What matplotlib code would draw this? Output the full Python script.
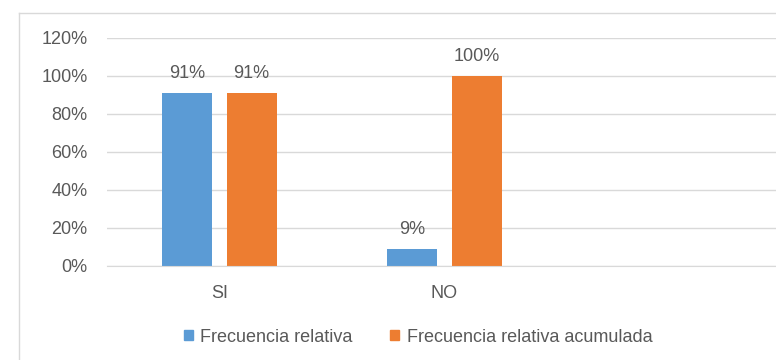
import numpy as np
import matplotlib.pyplot as plt
from matplotlib.patches import Patch
from matplotlib.lines import Line2D
from matplotlib.ticker import PercentFormatter

plt.rcParams['font.family'] = ['Liberation Sans', 'DejaVu Sans']

categories = ['SI', 'NO', '']
frec_relativa = [0.91, 0.09, np.nan]
frec_acumulada = [0.91, 1.00, np.nan]
series_names = ['Frecuencia relativa', 'Frecuencia relativa acumulada']
yticks = [0, 0.2, 0.4, 0.6, 0.8, 1.0, 1.2]

blue = '#5B9BD5'
orange = '#ED7D31'
grid_col = '#D9D9D9'
text_col = '#595959'
fs = 13

fig = plt.figure(figsize=(7.76, 3.6), dpi=100)
ax = fig.add_axes([107 / 776, 1 - 266 / 360, 675 / 776, 228 / 360])

x = np.arange(len(categories))
w = 0.222
off = 0.143
b1 = ax.bar(x - off, frec_relativa, w, color=blue)
b2 = ax.bar(x + off, frec_acumulada, w, color=orange)

for bars, vals in ((b1, frec_relativa), (b2, frec_acumulada)):
    for rect, v in zip(bars, vals):
        if np.isnan(v):
            continue
        ax.annotate(f'{v:.0%}', (rect.get_x() + rect.get_width() / 2, v),
                    xytext=(0, 8), textcoords='offset points',
                    ha='center', va='bottom', fontsize=fs, color=text_col)

ax.set_xlim(-0.5, len(categories) - 0.5)
ax.set_ylim(0, 1.2)
ax.set_yticks(yticks)
ax.yaxis.set_major_formatter(PercentFormatter(1.0, decimals=0))
ax.set_xticks(x)
ax.set_xticklabels(categories)
ax.grid(axis='y', color=grid_col, linewidth=1)
ax.set_axisbelow(True)
for s in ['top', 'right', 'left']:
    ax.spines[s].set_visible(False)
ax.spines['bottom'].set_color(grid_col)
ax.tick_params(axis='both', length=0, colors=text_col, labelsize=fs)
ax.tick_params(axis='y', pad=14)
ax.tick_params(axis='x', pad=14)

# chart area border
fig.add_artist(Line2D([19 / 776, 19 / 776], [0, 1 - 13 / 360], transform=fig.transFigure,
                      color=grid_col, linewidth=1))
fig.add_artist(Line2D([19 / 776, 1], [1 - 13 / 360, 1 - 13 / 360], transform=fig.transFigure,
                      color=grid_col, linewidth=1))

handles = [Patch(color=blue), Patch(color=orange)]
fig.legend(handles, series_names, loc='center', bbox_to_anchor=(418 / 776, 1 - 337 / 360),
           ncol=2, frameon=False, fontsize=fs, labelcolor=text_col,
           handlelength=0.5, handleheight=0.5, handletextpad=0.4, columnspacing=2.1)

fig.savefig('out.png', dpi=100)
